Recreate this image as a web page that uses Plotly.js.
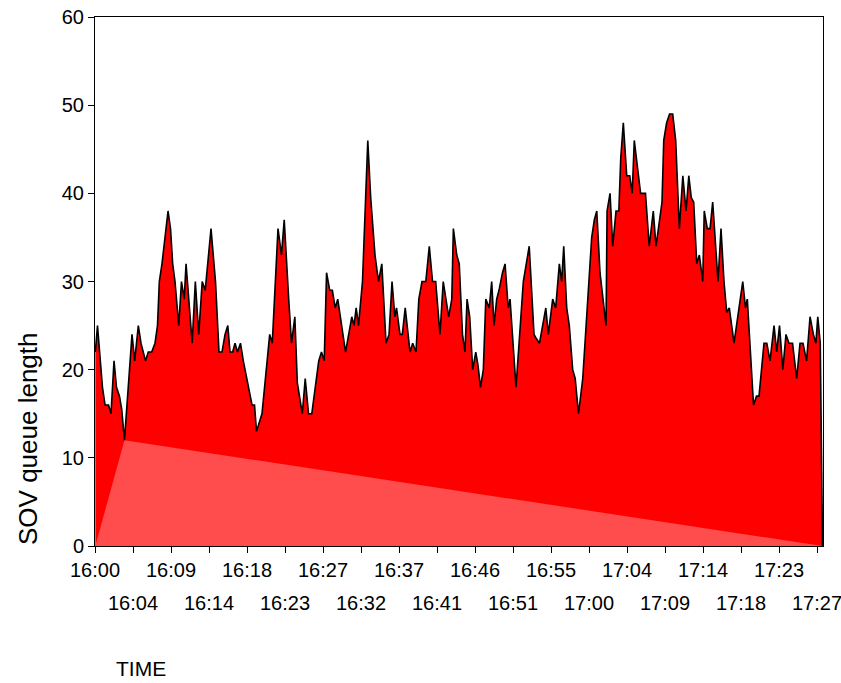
<!DOCTYPE html>
<html>
<head>
<meta charset="utf-8">
<script src="https://cdn.plot.ly/plotly-3.0.1.min.js"></script>
<style>html,body{margin:0;padding:0;background:#fff;}#chart{width:841px;height:683px;}</style>
</head>
<body>
<div id="chart"></div>
<script>
// minutes after 16:00 and SOV queue length
const minutes = [0.04,0.30,0.90,1.21,1.63,1.93,2.29,2.59,2.95,3.22,3.55,4.46,4.78,5.22,5.54,6.09,6.42,6.83,7.23,7.53,
7.75,8.07,8.80,9.10,9.36,9.64,10.09,10.42,10.75,10.97,11.71,12.09,12.50,12.92,13.28,13.98,14.52,14.94,15.30,15.67,
16.00,16.27,16.59,16.87,17.17,17.53,17.87,18.28,18.68,18.92,19.22,19.46,20.12,20.76,21.05,21.36,22.05,22.47,22.80,23.34,
23.68,24.08,24.38,24.98,25.33,25.73,26.12,26.96,27.29,27.62,27.90,28.29,28.60,28.94,29.25,30.19,30.94,31.21,31.47,31.75,
32.23,32.87,33.22,33.74,34.16,34.56,35.07,35.43,35.79,36.13,36.33,36.75,37.03,37.38,37.96,38.28,38.68,39.02,39.40,39.86,
40.28,40.67,41.05,41.57,41.96,42.62,42.99,43.18,43.59,43.89,44.28,44.58,44.83,45.15,45.51,45.88,46.15,46.45,46.79,47.09,
47.50,47.80,48.08,48.40,48.68,49.10,49.41,49.79,50.01,50.73,51.61,52.32,52.90,53.20,53.56,54.32,54.62,55.15,55.51,55.95,
56.23,56.48,56.84,57.15,57.56,57.86,58.26,58.77,59.23,59.85,60.17,60.46,60.85,61.58,61.70,62.06,62.38,62.78,63.12,63.35,
63.66,64.07,64.43,64.73,64.98,65.74,66.33,66.78,67.27,67.60,68.32,68.53,68.88,69.23,69.61,69.97,70.41,70.83,71.22,71.55,
71.85,72.14,72.51,72.82,73.23,73.41,73.78,74.11,74.43,75.07,75.43,75.79,76.12,76.43,77.00,78.05,78.38,78.60,79.35,79.71,
80.01,80.61,80.95,81.34,81.82,82.14,82.48,82.88,83.26,83.62,84.05,84.55,84.95,85.31,85.74,86.16,86.56,86.86,87.09,87.39,
87.66];
const queue = [22,25,18,16,16,15,21,18,17,15.5,12,24,21,25,23,21,22,22,23,25,
30,32,38,36,32,30,25,30,28,32,23,30,24,30,29,36,30,22,22,24,
25,22,22,23,22,23,21,19,17,16,16,13,15,21,24,23,36,33,37,28,
23,26,18.5,15,19,15,15,21,22,21,31,29,29,27,28,22,26,25,27,25,
30,46,39.5,33,30,32,23,24,30,26,27,24,24,27,22,23,22,28,30,30,
34,30,30,24,30,26,28,36,33,32,24,22,28,26,20,22,20.5,18,20,28,
27,30,25,28,29,31,32,27,28,18,30,34,24,23.5,23,27,24,28,27,32,
30,34,27,25,20,19,15,19,26,35,37,38,31,25,38,40,34,38,38,44,
48,42,42,40,46,40,40,34,38,34,39,46,48,49,49,46,36,42,38,42,
39.5,39,32,33,30,38,36,36,39,30,36,30,26.5,27,23,30,27,28,16,17,
17,23,23,21,25,22,25,20,24,23,23,19,23,23,21,26,24,23,26,23,
0];
const tickLabels = ['16:00','16:04','16:09','16:14','16:18','16:23','16:27','16:32','16:37','16:41',
'16:46','16:51','16:55','17:00','17:04','17:09','17:14','17:18','17:23','17:27'];
const tickStep = 87 / 19;

const FONT = 'Arial, "Liberation Sans", sans-serif';
const tickVals = tickLabels.map((t, i) => i * tickStep);
const tickText = tickLabels.map((t, i) => (i % 2 === 0 ? t : ''));

// lighter triangle seen under the fill (start, lowest point, end)
const last = queue.length - 1;
let minIdx = 0;
for (let i = 0; i < last; i++) if (queue[i] < queue[minIdx]) minIdx = i;

const traces = [
  {x: minutes, y: queue, type: 'scatter', mode: 'lines', fill: 'tozeroy',
   fillcolor: '#ff0000', line: {width: 0, color: '#ff0000'}, hoverinfo: 'skip'},
  {x: [minutes[0], minutes[minIdx], minutes[last], minutes[0]], y: [0, queue[minIdx], 0, 0],
   type: 'scatter', mode: 'lines', fill: 'toself', fillcolor: '#ff4d4d',
   line: {width: 0}, hoverinfo: 'skip'},
  {x: minutes, y: queue, type: 'scatter', mode: 'lines',
   line: {width: 1.6, color: '#000000'}, hoverinfo: 'skip'}
];

const annotations = tickLabels.map((t, i) => ({
  text: t, x: i * tickStep, xref: 'x', y: 0, yref: 'paper',
  yshift: -57, yanchor: 'middle', xanchor: 'center', showarrow: false,
  font: {family: FONT, size: 20, color: '#000'}
})).filter((a, i) => i % 2 === 1);

annotations.push({
  text: 'TIME', xref: 'paper', x: (114 - 95) / 728, xanchor: 'left',
  yref: 'paper', y: 0, yshift: -122, yanchor: 'middle', showarrow: false,
  font: {family: FONT, size: 21, color: '#000'}
});
annotations.push({
  text: 'SOV queue length', textangle: -90, xref: 'paper', x: (28 - 95) / 728, xanchor: 'center',
  yref: 'paper', y: (546 - 439) / 529, yanchor: 'middle', showarrow: false,
  font: {family: FONT, size: 26, color: '#000'}
});

const layout = {
  width: 841, height: 683,
  margin: {l: 95, r: 18, t: 17, b: 137},
  paper_bgcolor: '#ffffff', plot_bgcolor: '#ffffff',
  showlegend: false,
  font: {family: FONT, color: '#000'},
  xaxis: {
    range: [0, 87.72], tickmode: 'array', tickvals: tickVals, ticktext: tickText,
    ticks: 'outside', ticklen: 6, tickwidth: 1, tickcolor: '#000',
    showline: true, linecolor: '#000', linewidth: 1, mirror: true,
    showgrid: false, zeroline: false,
    tickfont: {family: FONT, size: 20, color: '#000'}
  },
  yaxis: {
    range: [0, 60], tickmode: 'array', tickvals: [0, 10, 20, 30, 40, 50, 60],
    ticks: 'outside', ticklen: 6, tickwidth: 1, tickcolor: '#000',
    showline: true, linecolor: '#000', linewidth: 1, mirror: true,
    showgrid: false, zeroline: false,
    tickfont: {family: FONT, size: 20, color: '#000'}
  },
  annotations: annotations
};

Plotly.newPlot('chart', traces, layout, {staticPlot: true, displayModeBar: false});
</script>
</body>
</html>
